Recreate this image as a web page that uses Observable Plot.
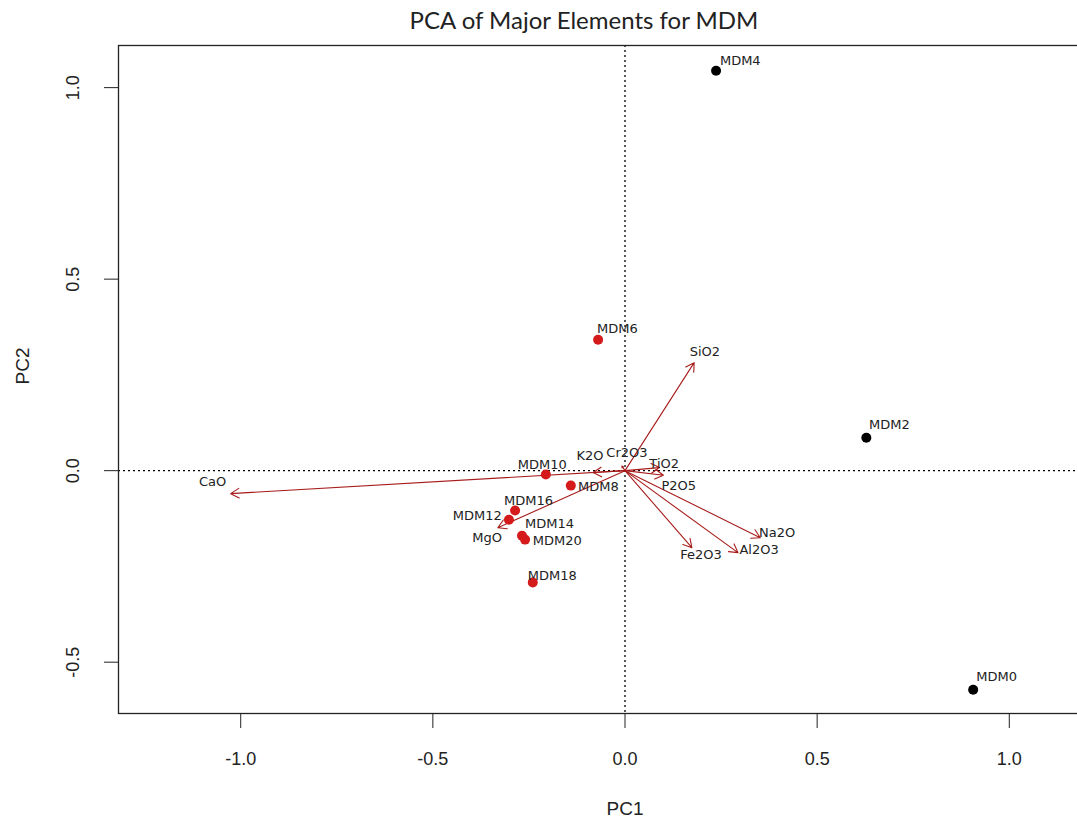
<!DOCTYPE html>
<html>
<head>
<meta charset="utf-8">
<script src="https://cdn.jsdelivr.net/npm/d3@7"></script>
<script src="https://cdn.jsdelivr.net/npm/@observablehq/plot@0.6"></script>
<style>
  html, body { margin: 0; padding: 0; background: #fff; overflow: hidden; width: 1077px; height: 823px; }
  #title { width: 1168px; height: 40px; line-height: 40px; text-align: center;
           font-family: Lato, "Open Sans", sans-serif; font-size: 24px; color: #222; }
  #chart { width: 1131px; }
  #chart svg { display: block; max-width: none !important; width: 1131px !important; height: 783px !important; }
</style>
</head>
<body>
<div id="title">PCA of Major Elements for MDM</div>
<div id="chart"></div>
<script>
// Sample scores (PC1, PC2)
const sampleNames = ["MDM0","MDM2","MDM4","MDM6","MDM8","MDM10","MDM12","MDM14","MDM16","MDM18","MDM20"];
const samplePC1 = [0.906, 0.628, 0.237, -0.070, -0.141, -0.206, -0.302, -0.268, -0.286, -0.240, -0.260];
const samplePC2 = [-0.572, 0.086, 1.044, 0.342, -0.039, -0.010, -0.128, -0.170, -0.104, -0.292, -0.180];
const sampleGroup = ["outlier","outlier","outlier","main","main","main","main","main","main","main","main"];
// label anchor positions (data units)
const sampleLabelX = [0.914, 0.635, 0.247, -0.073, -0.122, -0.279, -0.448, -0.260, -0.315, -0.253, -0.240];
const sampleLabelY = [-0.538, 0.120, 1.070, 0.371, -0.042, 0.016, -0.117, -0.138, -0.078, -0.274, -0.183];

// Variable loadings (arrow tips)
const elements = ["SiO2","TiO2","Al2O3","Fe2O3","MgO","CaO","Na2O","K2O","P2O5","Cr2O3"];
const loadPC1 = [0.180, 0.090, 0.294, 0.174, -0.331, -1.026, 0.352, -0.083, 0.100, -0.008];
const loadPC2 = [0.282, 0.008, -0.214, -0.201, -0.149, -0.060, -0.175, -0.005, -0.012, 0.012];
const elemLabelX = [0.208, 0.102, 0.349, 0.198, -0.359, -1.073, 0.396, -0.091, 0.140, 0.005];
const elemLabelY = [0.311, 0.018, -0.206, -0.219, -0.175, -0.029, -0.162, 0.039, -0.039, 0.047];

const xTicks = [-1.0, -0.5, 0.0, 0.5, 1.0];
const yTicks = [-0.5, 0.0, 0.5, 1.0];

const samples = sampleNames.map((n, i) => ({name: n, x: samplePC1[i], y: samplePC2[i], g: sampleGroup[i], lx: sampleLabelX[i], ly: sampleLabelY[i]}));
const loads = elements.map((n, i) => ({name: n, x: loadPC1[i], y: loadPC2[i], lx: elemLabelX[i], ly: elemLabelY[i]}));

const arrowColor = "#a81c1c";
const pointRed = "#d41a1a";
const fmt = d => d.toFixed(1);

const chart = Plot.plot({
  width: 1131,
  height: 783,
  marginLeft: 118,
  marginRight: 0,
  marginTop: 5,
  marginBottom: 110,
  style: {fontFamily: "'Liberation Sans', Arial, sans-serif", background: "white", color: "#222"},
  x: {domain: [-1.318, 1.318], label: null},
  y: {domain: [-0.634, 1.11], label: null},
  color: {domain: ["outlier", "main"], range: ["#000000", pointRed]},
  marks: [
    Plot.ruleX([0], {stroke: "#000", strokeDasharray: "2,3", strokeWidth: 1.3}),
    Plot.ruleY([0], {stroke: "#000", strokeDasharray: "2,3", strokeWidth: 1.3}),
    Plot.arrow(loads, {x1: () => 0, y1: () => 0, x2: "x", y2: "y", stroke: arrowColor, strokeWidth: 1.1, headLength: 13, headAngle: 60}),
    Plot.text(loads, {x: "lx", y: "ly", text: "name", fontSize: 13, fontFamily: "'DejaVu Sans', sans-serif", fill: "#222", textAnchor: "middle", lineAnchor: "middle"}),
    Plot.dot(samples, {x: "x", y: "y", r: 5, fill: "g", stroke: "none"}),
    Plot.text(samples, {x: "lx", y: "ly", text: "name", fontSize: 13, fontFamily: "'DejaVu Sans', sans-serif", fill: "#222", textAnchor: "start", lineAnchor: "middle"}),
    Plot.frame({stroke: "#222", strokeWidth: 1.3}),
    Plot.axisX({ticks: xTicks, tickFormat: fmt, tickSize: 15, tickPadding: 24, fontSize: 18, label: null}),
    Plot.axisY({ticks: yTicks, tickFormat: fmt, tickSize: 14, tickPadding: 26, tickRotate: -90, fontSize: 18, label: null}),
    Plot.text(["PC1"], {frameAnchor: "bottom", dy: 95, fontSize: 19, lineAnchor: "middle"}),
    Plot.text(["PC2"], {frameAnchor: "left", dx: -96, dy: 5, rotate: -90, fontSize: 19, lineAnchor: "middle"})
  ]
});
document.getElementById("chart").appendChild(chart);
</script>
</body>
</html>
